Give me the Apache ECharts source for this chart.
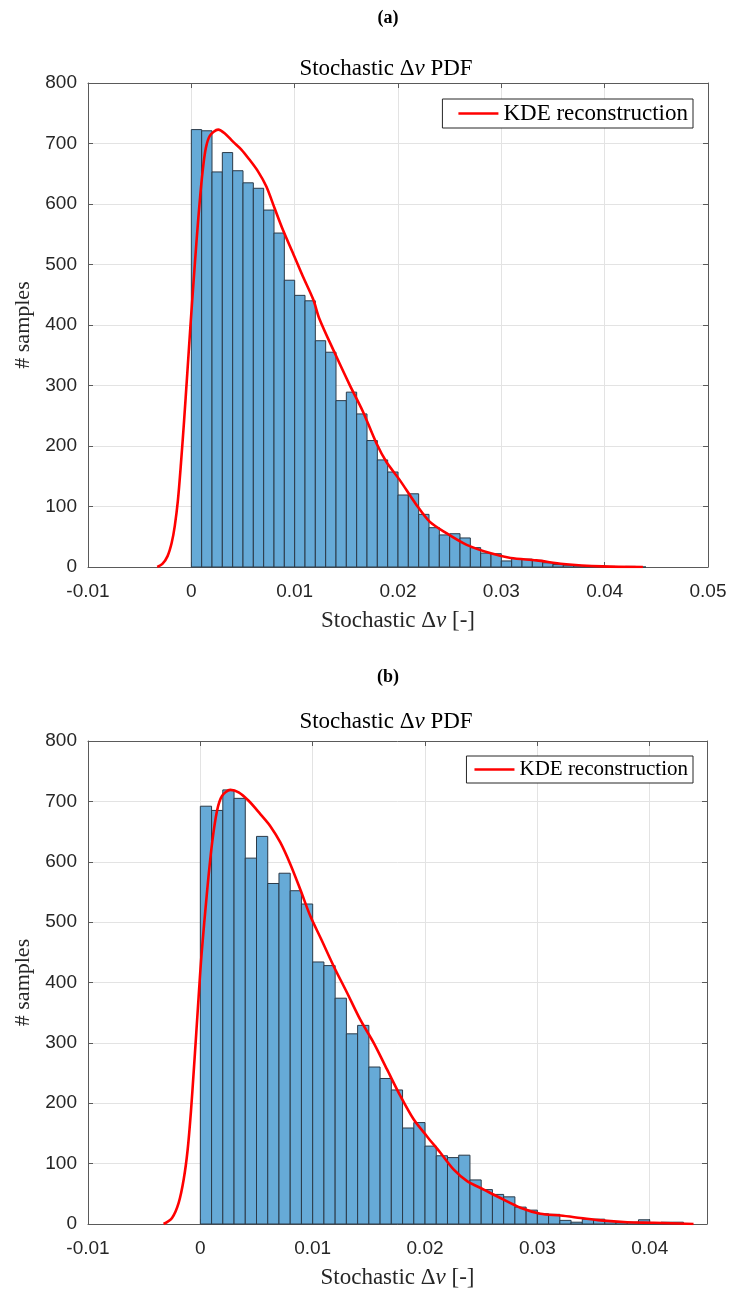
<!DOCTYPE html>
<html>
<head>
<meta charset="utf-8">
<script src="https://cdn.jsdelivr.net/npm/echarts@6/dist/echarts.min.js"></script>
<style>html,body{margin:0;padding:0;background:#fff;}#c{width:731px;height:1291px;}</style>
</head>
<body>
<div id="c"></div>
<script>
// ---------- DATA ----------
const binWidth = 0.001;
const binStartA = 0;
const countsA = [723, 721, 653, 685, 655, 635, 626, 590, 552, 474, 449, 440, 374, 355, 275, 289, 253, 209, 177, 157,
  119, 121, 87, 65, 53, 55, 48, 32, 23, 22, 10, 14, 13, 11, 7, 4, 3, 2, 1, 1, 1, 0, 1, 0];
const binStartB = 0;
const countsB = [692, 685, 719, 705, 606, 642, 564, 581, 552, 530, 434, 428, 374, 315, 329, 260, 241, 222, 159, 168,
  129, 113, 110, 114, 73, 57, 49, 45, 28, 23, 17, 16, 6, 3, 8, 8, 4, 3, 3, 7, 2, 3, 3];
const kdeA = [[-0.0033,0],[-0.0028,5],[-0.0023,18],[-0.0019,40],[-0.0016,68],[-0.0013,110],[-0.001,172],
  [-0.0007,242],[-0.0004,318],[-0.0001,395],[0.0002,468],[0.0005,538],[0.0008,602],[0.0011,655],[0.0014,692],
  [0.0018,713],[0.0026,723],[0.00322,717],[0.00403,703],[0.00484,690],[0.00564,673],[0.00645,654],[0.00726,629],
  [0.00806,593],[0.00887,557],[0.00983,519],[0.0108,480],[0.0118,442],[0.0124,410],[0.01387,354],[0.01532,301],
  [0.0166,257],[0.0179,205],[0.01887,174],[0.02016,144],[0.02177,103],[0.02306,75],[0.02468,56],[0.0266,37],
  [0.0289,23],[0.0309,15],[0.0334,11],[0.036,5],[0.0398,1],[0.0437,0]];
const kdeB = [[-0.00327,0],[-0.00252,10],[-0.00193,35],[-0.00148,74],[-0.00113,123],[-0.00083,188],[-0.0006,250],
  [-0.00036,317],[-0.00015,377],[0.0001,445],[0.0006,551],[0.00104,630],[0.00149,685],[0.00193,709],[0.00267,719],
  [0.00341,715],[0.0043,701],[0.00534,679],[0.00623,659],[0.00712,632],[0.00801,596],[0.0089,554],[0.00979,510],
  [0.01075,472],[0.01187,427],[0.01306,383],[0.01425,338],[0.01543,300],[0.01662,256],[0.01781,212],[0.019,173],
  [0.02018,145],[0.02137,118],[0.02256,90],[0.02375,71],[0.02523,57],[0.02671,43],[0.02849,27],[0.03027,17],
  [0.03206,14],[0.03384,10],[0.03562,6],[0.038,3],[0.04037,2],[0.0439,0]];
const xRangeA = [-0.01, 0.05];
const xRangeB = [-0.01, 0.0451];
const yRange = [0, 800];
const xTickStep = 0.01;
const yTickStep = 100;
const subLabels = ['(a)', '(b)'];
const titleText = 'Stochastic Δ{i|v} PDF';
const xLabelText = 'Stochastic Δ{i|v} [-]';
const yLabelText = '# samples';
const legendName = 'KDE reconstruction';

// ---------- BUILD ----------
function histRows(start, counts) {
  return counts.map((c, i) => [start + i * binWidth, start + (i + 1) * binWidth, c]);
}
const serif = 'Liberation Serif';
const sans = 'Liberation Sans';
const axisCol = '#5a5a5a';
const txtCol = '#262626';
const richT = { i: { fontStyle: 'italic', fontFamily: serif, fontSize: 23, color: '#000' } };
const richX = { i: { fontStyle: 'italic', fontFamily: serif, fontSize: 23, color: txtCol } };

const grids = [
  { left: 88, right: 23, top: 83, height: 484 },
  { left: 88, right: 24, top: 741, height: 483 }
];
const ranges = [xRangeA, xRangeB];

const xAxes = [], yAxes = [];
ranges.forEach((r, g) => {
  xAxes.push({
    type: 'value', gridIndex: g, min: r[0], max: r[1], interval: xTickStep,
    axisLine: { show: true, onZero: false, lineStyle: { color: axisCol, width: 1 } },
    axisTick: { inside: true, length: 5, lineStyle: { color: axisCol } },
    axisLabel: { color: txtCol, fontFamily: sans, fontSize: 19, margin: 15, showMaxLabel: g === 0,
      formatter: v => String(+v.toFixed(4)) },
    splitLine: { show: true, lineStyle: { color: '#e3e3e3' } },
    name: xLabelText, nameLocation: 'middle', nameGap: 42,
    nameTextStyle: { fontFamily: serif, fontSize: 23, color: txtCol, rich: richX }
  });
  xAxes.push({
    type: 'value', gridIndex: g, position: 'top', min: r[0], max: r[1], interval: xTickStep,
    axisLine: { show: true, onZero: false, lineStyle: { color: axisCol, width: 1 } },
    axisTick: { inside: true, length: 5, lineStyle: { color: axisCol } },
    axisLabel: { show: false }, splitLine: { show: false }
  });
  yAxes.push({
    type: 'value', gridIndex: g, min: yRange[0], max: yRange[1], interval: yTickStep,
    axisLine: { show: true, onZero: false, lineStyle: { color: axisCol, width: 1 } },
    axisTick: { show: true, inside: true, length: 5, lineStyle: { color: axisCol } },
    axisLabel: { color: txtCol, fontFamily: sans, fontSize: 19, margin: 11 },
    splitLine: { show: true, lineStyle: { color: '#e3e3e3' } },
    name: yLabelText, nameLocation: 'middle', nameGap: 53,
    nameTextStyle: { fontFamily: serif, fontSize: 22, color: txtCol }
  });
  yAxes.push({
    type: 'value', gridIndex: g, position: 'right', min: yRange[0], max: yRange[1], interval: yTickStep,
    axisLine: { show: true, onZero: false, lineStyle: { color: axisCol, width: 1 } },
    axisTick: { show: true, inside: true, length: 5, lineStyle: { color: axisCol } },
    axisLabel: { show: false }, splitLine: { show: false }
  });
});

function histSeries(rows, g) {
  return {
    type: 'custom', xAxisIndex: g * 2, yAxisIndex: g * 2, data: rows,
    encode: { x: [0, 1], y: 2 }, silent: true,
    renderItem: function (params, api) {
      const p0 = api.coord([api.value(0), api.value(2)]);
      const p1 = api.coord([api.value(1), 0]);
      return { type: 'rect', shape: { x: p0[0], y: p0[1], width: p1[0] - p0[0], height: p1[1] - p0[1] },
        style: { fill: '#66aad7', stroke: '#2b3a48', lineWidth: 1 } };
    }
  };
}
function kdeSeries(pts, g) {
  return {
    type: 'line', name: legendName, xAxisIndex: g * 2, yAxisIndex: g * 2, data: pts,
    smooth: 0.3, showSymbol: false, symbol: 'none',
    lineStyle: { color: '#ff0000', width: 2.6 }, itemStyle: { color: '#ff0000' }, z: 5
  };
}
function legendBox(top, size, padLeft) {
  return { right: 38, top: top, orient: 'vertical', data: [legendName], icon: 'rect', itemWidth: 40, itemHeight: 2.5,
    backgroundColor: '#fff', borderColor: txtCol, borderWidth: 1, borderRadius: 0, padding: [3, 5, 3, padLeft],
    textStyle: { fontFamily: serif, fontSize: size, color: '#000' }, selectedMode: false };
}

const option = {
  animation: false,
  backgroundColor: '#ffffff',
  title: [
    { text: subLabels[0], left: 383, top: 4, textAlign: 'center', textStyle: { fontFamily: serif, fontSize: 18, fontWeight: 'bold', color: '#000' } },
    { text: titleText, left: 381, top: 52, textAlign: 'center', textStyle: { fontFamily: serif, fontSize: 23, fontWeight: 'normal', color: '#000', rich: richT } },
    { text: subLabels[1], left: 383, top: 663, textAlign: 'center', textStyle: { fontFamily: serif, fontSize: 18, fontWeight: 'bold', color: '#000' } },
    { text: titleText, left: 381, top: 705, textAlign: 'center', textStyle: { fontFamily: serif, fontSize: 23, fontWeight: 'normal', color: '#000', rich: richT } }
  ],
  legend: [ legendBox(99, 23, 16), legendBox(756, 21, 8) ],
  grid: grids,
  xAxis: xAxes,
  yAxis: yAxes,
  series: [
    histSeries(histRows(binStartA, countsA), 0),
    kdeSeries(kdeA, 0),
    histSeries(histRows(binStartB, countsB), 1),
    kdeSeries(kdeB, 1)
  ]
};
const chart = echarts.init(document.getElementById('c'), null, { renderer: 'canvas' });
chart.setOption(option);
</script>
</body>
</html>
